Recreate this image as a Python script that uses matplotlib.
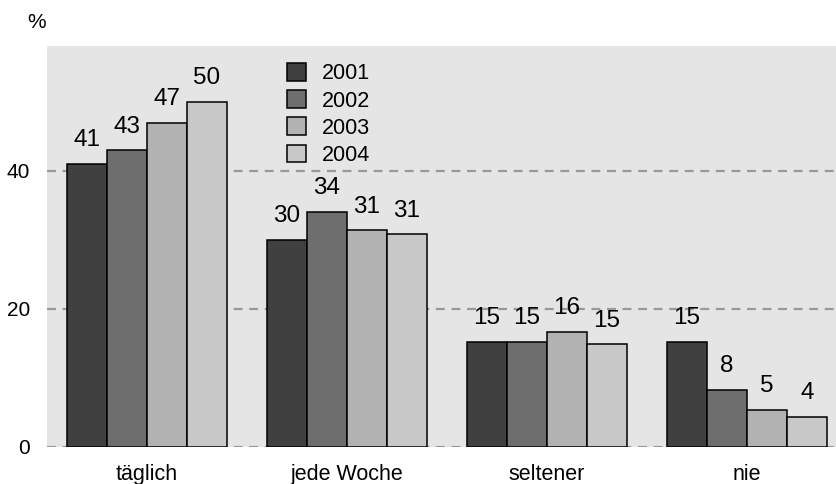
import matplotlib.pyplot as plt
import numpy as np

plt.rcParams['font.family'] = ['Liberation Sans', 'DejaVu Sans']

categories = ['täglich', 'jede Woche', 'seltener', 'nie']
years = ['2001', '2002', '2003', '2004']
# bar heights as drawn and the printed labels
values = [
    [41.0, 30.0, 15.2, 15.2],
    [43.0, 34.05, 15.2, 8.3],
    [47.0, 31.4, 16.7, 5.4],
    [50.0, 30.8, 14.9, 4.4],
]
labels = [
    ['41', '30', '15', '15'],
    ['43', '34', '15', '8'],
    ['47', '31', '16', '5'],
    ['50', '31', '15', '4'],
]
colors = ['#404040', '#6e6e6e', '#b2b2b2', '#c8c8c8']

fig = plt.figure(figsize=(8.37, 4.84), dpi=100)
ax = fig.add_axes([47 / 837, 1 - 447 / 484, 1 - 47 / 837, (447 - 46) / 484])
ax.set_facecolor('#e5e5e5')

x = np.arange(len(categories))
w = 0.2
for i in range(len(years)):
    pos = x - 0.3 + i * w
    bars = ax.bar(pos, values[i], width=w, color=colors[i], edgecolor='black',
                  linewidth=1.1, label=years[i], zorder=3)
    for b, t in zip(bars, labels[i]):
        ax.annotate(t, (b.get_x() + b.get_width() / 2, b.get_height()),
                    xytext=(0, 17), textcoords='offset points',
                    ha='center', va='center', fontsize=17.5, zorder=4)

ax.set_xlim(-0.5, 3.45)
ax.set_ylim(0, 58.1)
ax.set_yticks([0, 20, 40])
ax.set_xticks(x)
ax.set_xticklabels(categories, fontsize=15.5)
ax.tick_params(axis='y', labelsize=15, length=0, pad=12)
ax.tick_params(axis='x', length=0, pad=12)
for y in [0, 20, 40]:
    ax.axhline(y, color='#999999', linestyle=(0, (4, 3)), linewidth=1.6, zorder=1)
for s in ax.spines.values():
    s.set_visible(False)

fig.text(27 / 837, 1 - 22 / 484, '%', fontsize=15, va='center', ha='left')

ax.legend(loc='upper left', bbox_to_anchor=(287 / 837, 1 - 63 / 484),
          bbox_transform=fig.transFigure, frameon=False, fontsize=15.5,
          handlelength=0.9, handleheight=0.9, handletextpad=0.7,
          labelspacing=0.27, borderpad=0, borderaxespad=0)

fig.savefig('out.png', dpi=100)
